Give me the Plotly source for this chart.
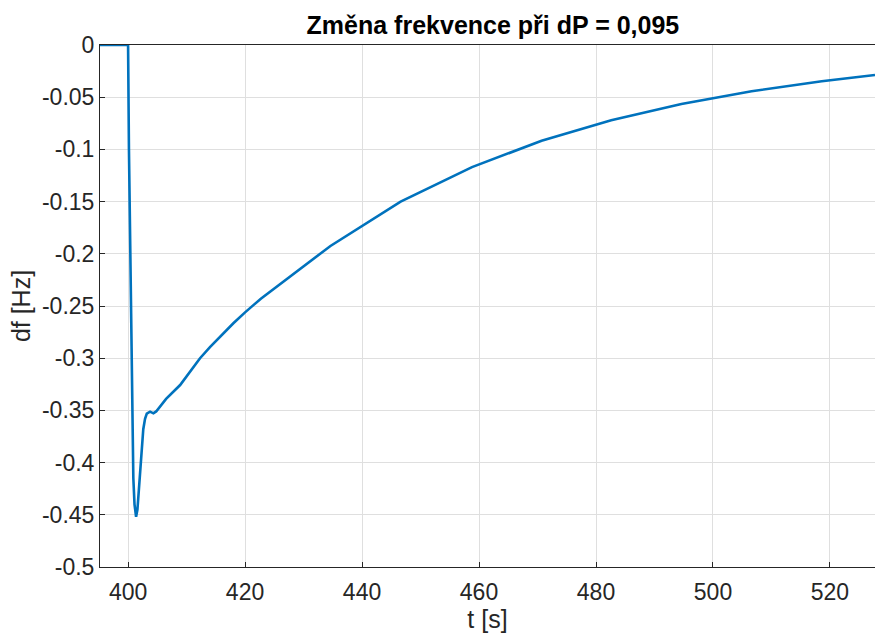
import plotly.graph_objects as go

# Frequency deviation response after a power step dP = 0.095
t_s = [395.0, 400.0, 400.15, 400.4, 400.63, 400.9, 401.1, 401.37, 401.6, 401.9,
       402.2, 402.6, 402.9, 403.2, 403.76, 404.33, 404.8, 405.2, 406.5, 408.9,
       410.5, 412.3, 414.0, 416.0, 418.0, 420.0, 422.7, 434.6, 446.6, 458.8,
       470.7, 482.6, 494.6, 506.6, 518.6, 527.7]
df_hz = [0.0, 0.0, -0.10, -0.22, -0.32, -0.415, -0.44, -0.452, -0.445, -0.42,
         -0.395, -0.368, -0.358, -0.353, -0.3512, -0.3528, -0.351, -0.348, -0.339, -0.3257,
         -0.3135, -0.300, -0.2893, -0.2775, -0.2665, -0.2561, -0.243, -0.1925, -0.150, -0.117,
         -0.0917, -0.072, -0.0565, -0.0443, -0.0348, -0.0287]

x_ticks = [400, 420, 440, 460, 480, 500, 520]
x_tick_labels = ["400", "420", "440", "460", "480", "500", "520"]
y_ticks = [0, -0.05, -0.1, -0.15, -0.2, -0.25, -0.3, -0.35, -0.4, -0.45, -0.5]
y_tick_labels = ["0", "-0.05", "-0.1", "-0.15", "-0.2", "-0.25", "-0.3", "-0.35", "-0.4", "-0.45", "-0.5"]

axis_color = "#262626"
grid_color = "#dfdfdf"
font_family = "Liberation Sans, Arial, sans-serif"

fig = go.Figure()
fig.add_trace(go.Scatter(
    x=t_s, y=df_hz, mode="lines",
    line=dict(color="#0072BD", width=2.6),
    showlegend=False,
))

common_axis = dict(
    showline=True, linecolor=axis_color, linewidth=1, mirror=True,
    showgrid=True, gridcolor=grid_color, gridwidth=1,
    ticks="inside", ticklen=5, tickcolor=axis_color, tickwidth=1,
    zeroline=False,
    tickfont=dict(family=font_family, size=23, color=axis_color),
)

fig.update_layout(
    width=875, height=634,
    margin=dict(l=100, r=0, t=45, b=67),
    paper_bgcolor="white", plot_bgcolor="white",
    title=dict(
        text="<b>Změna frekvence při dP = 0,095</b>",
        font=dict(family=font_family, size=25, color="black"),
        x=0.507, xref="paper", xanchor="center",
        y=(634 - 25) / 634, yref="container", yanchor="middle",
    ),
    xaxis=dict(
        common_axis, range=[395.2, 527.7],
        tickvals=x_ticks, ticktext=x_tick_labels, ticklabelstandoff=4,
        title=dict(text="t [s]", font=dict(family=font_family, size=25, color=axis_color), standoff=4),
    ),
    yaxis=dict(
        common_axis, range=[-0.5, 0],
        tickvals=y_ticks, ticktext=y_tick_labels,
        title=dict(text="df [Hz]", font=dict(family=font_family, size=25, color=axis_color), standoff=4),
    ),
)

fig.write_html("out.html")
